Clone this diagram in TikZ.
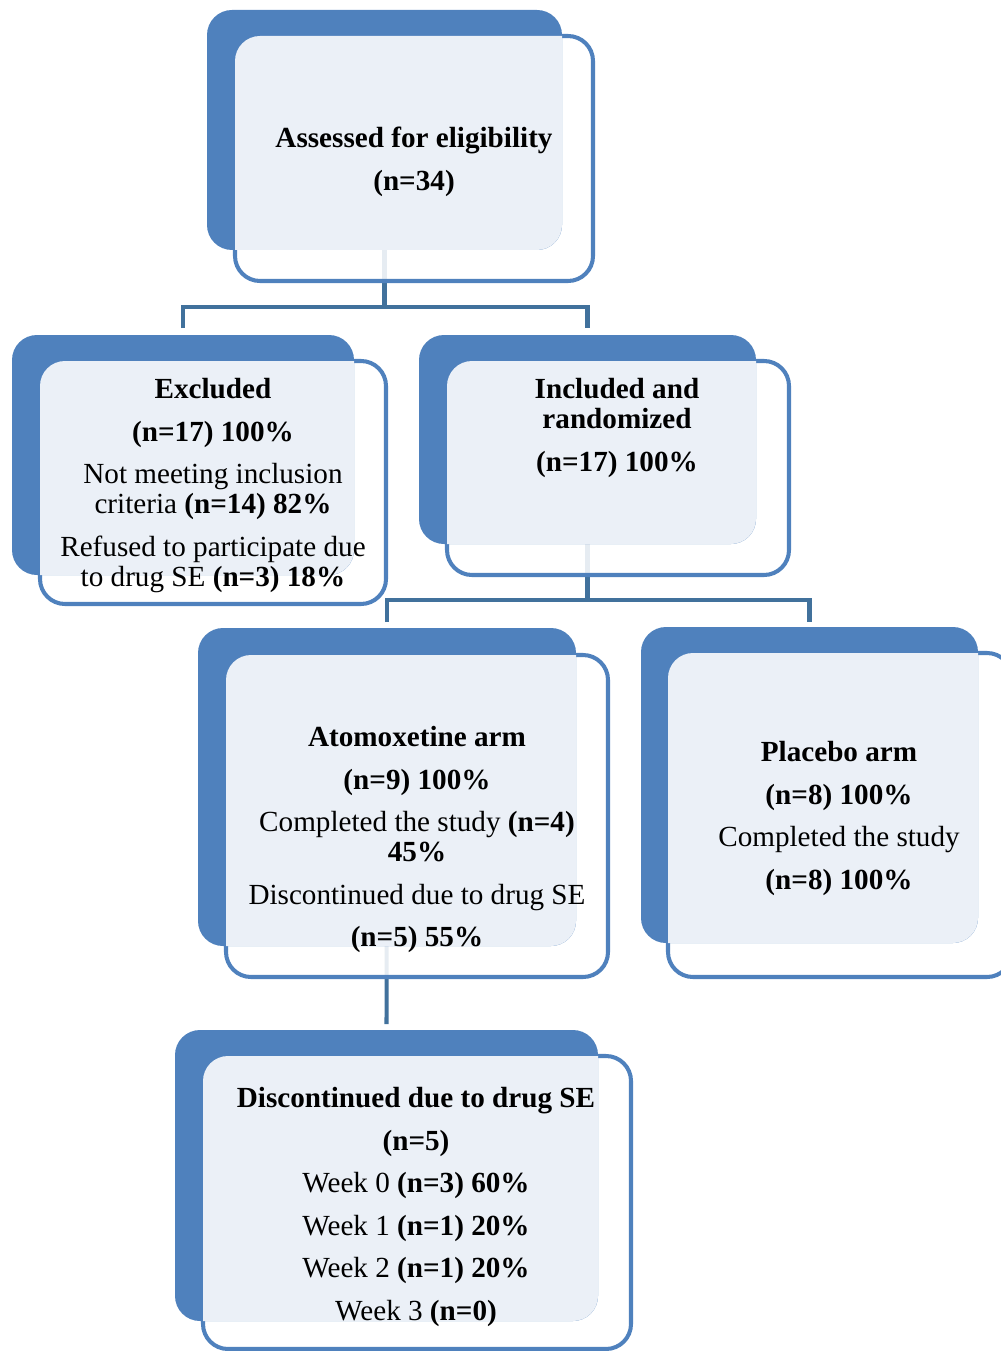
\documentclass[tikz,border=0pt]{standalone}
\usepackage{fontspec}
\setmainfont{Liberation Serif}
\pgfdeclarelayer{bg}
\pgfsetlayers{bg,main}
\definecolor{armblue}{HTML}{4F81BD}
\definecolor{armpale}{HTML}{EBF0F7}
\definecolor{linkblue}{HTML}{41719C}
\tikzset{
  backbox/.style={fill=armblue,rounded corners=0.5cm},
  frontbox/.style={draw=armblue,fill=white,fill opacity=0.87,line width=2.3pt,rounded corners=0.5cm},
  palebox/.style={fill=armpale,rounded corners=0.5cm},
  link/.style={draw=linkblue,line width=2.3pt},
  txt/.style={anchor=north,align=center,inner sep=0pt,font=\fontsize{16.6pt}{17.1pt}\selectfont}
}
\begin{document}
\begin{tikzpicture}[x=0.02cm,y=-0.02cm,line join=round]
  \useasboundingbox (0,0) rectangle (1000,1351);

  % Each stage: blue card behind, outlined card in front, pale where they overlap.
  \foreach \ax/\ay/\bx/\by/\cx/\cy/\dx/\dy/\nm in {
    207/10/562/250/235/36/593/281/assessB,
    12/335/354/575/40/361/386/604/exclB,
    419/335/756/544/447/361/789/575/inclB,
    198/628/576/946/226/655/608/977/atoB,
    641/627/978/943/668/653/1012/977/placB,
    175/1030/598/1321/203/1056/631/1349/discB}{
    \draw[frontbox] (\cx,\cy) rectangle (\dx,\dy);
    \fill[backbox] (\ax,\ay) rectangle (\bx,\by);
    \begin{scope}
      \clip[rounded corners=0.5cm] (\ax,\ay) rectangle (\bx,\by);
      \fill[palebox] (\cx,\cy) rectangle (\dx,\dy);
    \end{scope}
    \coordinate (\nm) at ({(\ax+\bx)/2},{(\ay+\by)/2});
  }

  % Texts of the stages.
  \node[txt] (assess) at (414,127) {\textbf{Assessed for eligibility}\\[7.1pt]\textbf{(n=34)}};
  \node[txt] (excl) at (213,378) {\textbf{Excluded}\\[7.1pt]\textbf{(n=17) 100\%}\\[7.1pt]
    Not meeting inclusion\\criteria \textbf{(n=14) 82\%}\\[7.1pt]
    Refused to participate due\\to drug SE \textbf{(n=3) 18\%}};
  \node[txt] (incl) at (617,378) {\textbf{Included and}\\\textbf{randomized}\\[7.1pt]\textbf{(n=17) 100\%}};
  \node[txt] (ato) at (417,726) {\textbf{Atomoxetine arm}\\[7.1pt]\textbf{(n=9) 100\%}\\[7.1pt]
    Completed the study \textbf{(n=4)}\\\textbf{45\%}\\[7.1pt]
    Discontinued due to drug SE\\[7.1pt]\textbf{(n=5) 55\%}};
  \node[txt] (plac) at (839,741) {\textbf{Placebo arm}\\[7.1pt]\textbf{(n=8) 100\%}\\[7.1pt]
    Completed the study\\[7.1pt]\textbf{(n=8) 100\%}};
  \node[txt] (disc) at (416,1087) {\textbf{Discontinued due to drug SE}\\[7.1pt]\textbf{(n=5)}\\[7.1pt]
    Week 0 \textbf{(n=3) 60\%}\\[7.1pt]Week 1 \textbf{(n=1) 20\%}\\[7.1pt]
    Week 2 \textbf{(n=1) 20\%}\\[7.1pt]Week 3 \textbf{(n=0)}};

  % Connectors run behind the cards and stop short of the next card.
  \begin{pgfonlayer}{bg}
    \draw[link] (assessB) -- ++(0,177);
    \draw[link] (exclB) ++(0,-127) -- ++(0,-21) -| ([yshift=2.23cm]inclB);
    \draw[link] (inclB) -- ++(0,161);
    \draw[link] (atoB) ++(0,-165) -- ++(0,-22) -| ([yshift=3.26cm]placB);
    \draw[link] (atoB) -- ([yshift=3.03cm]discB);
  \end{pgfonlayer}
\end{tikzpicture}
\end{document}
